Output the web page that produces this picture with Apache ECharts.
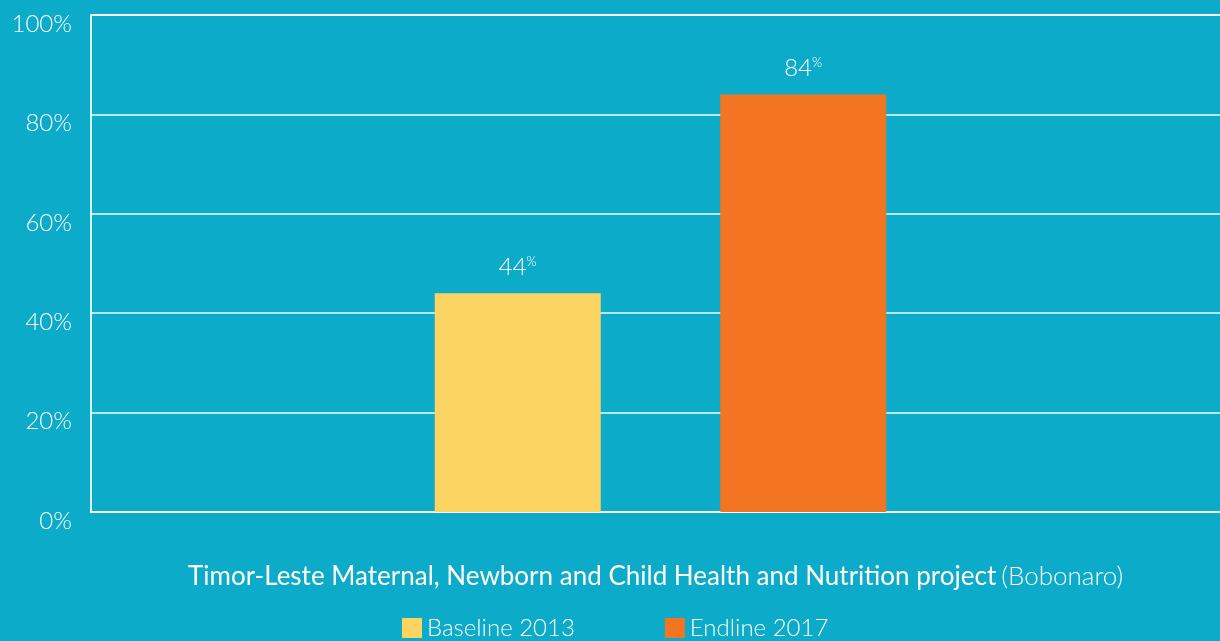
<!DOCTYPE html>
<html><head><meta charset="utf-8">
<script src="https://cdn.jsdelivr.net/npm/echarts@6/dist/echarts.min.js"></script>
<style>html,body{margin:0;padding:0;background:#0DABCA;}#c{width:1220px;height:641px;}</style>
</head><body><div id="c"></div>
<script>
const categories = ['Bobonaro'];
const seriesNames = ['Baseline 2013', 'Endline 2017'];
const baseline = [44];
const endline = [84];
const yTicks = [0, 20, 40, 60, 80, 100];
const titleMain = 'Timor-Leste Maternal, Newborn and Child Health and Nutrition project';
const titleSub = '(Bobonaro)';

const FONT = 'Lato';
const chart = echarts.init(document.getElementById('c'));
const lbl = {
  show: true, position: 'top', distance: 14,
  formatter: p => '{v|' + p.value + '}{s|%}',
  rich: {
    v: {color: '#fff', fontSize: 24, fontFamily: FONT, fontWeight: 300},
    s: {color: '#fff', fontSize: 13, fontFamily: FONT, fontWeight: 300, verticalAlign: 'top', padding: [0,0,10,0]}
  }
};
chart.setOption({
  backgroundColor: '#0DABCA',
  animation: false,
  title: {
    text: '{a|' + titleMain + '} {b|' + titleSub + '}',
    left: 183, top: 559,
    textStyle: {
      rich: {
        a: {color: '#fff', fontSize: 26, fontFamily: FONT, fontWeight: 400},
        b: {color: '#fff', fontSize: 26, fontFamily: FONT, fontWeight: 300}
      }
    }
  },
  legend: {
    data: seriesNames, left: 397, top: 611, itemWidth: 20, itemHeight: 20, itemGap: 90,
    icon: 'rect',
    textStyle: {color: '#fff', fontSize: 24, fontFamily: FONT, fontWeight: 300, padding: [0,0,0,0]}
  },
  grid: {left: 91, right: -10, top: 15, bottom: 129, containLabel: false, outerBoundsMode: 'none'},
  xAxis: {
    type: 'category', data: categories,
    axisLine: {show: true, lineStyle: {color: '#fff', width: 2}},
    axisTick: {show: false}, axisLabel: {show: false}
  },
  yAxis: {
    type: 'value', min: 0, max: 100, interval: 20,
    axisLine: {show: true, lineStyle: {color: 'rgba(255,255,255,0.85)', width: 2}},
    axisTick: {show: false},
    splitLine: {show: true, lineStyle: {color: 'rgba(255,255,255,0.7)', width: 2}},
    axisLabel: {
      color: '#fff', fontSize: 24, fontFamily: FONT, fontWeight: 300, margin: 19,
      verticalAlign: 'top', padding: [-3,0,0,0],
      formatter: v => yTicks.includes(v) ? v + '%' : ''
    }
  },
  series: [
    {name: seriesNames[0], type: 'bar', data: baseline, barWidth: 166, barGap: '72%', itemStyle: {color: '#FCD462'}, label: lbl},
    {name: seriesNames[1], type: 'bar', data: endline, barWidth: 166, itemStyle: {color: '#F47521'}, label: lbl}
  ],
  graphic: [{type: 'line', shape: {x1: 91, y1: 15, x2: 1220, y2: 15}, style: {stroke: '#fff', lineWidth: 2}}]
});
</script></body></html>
